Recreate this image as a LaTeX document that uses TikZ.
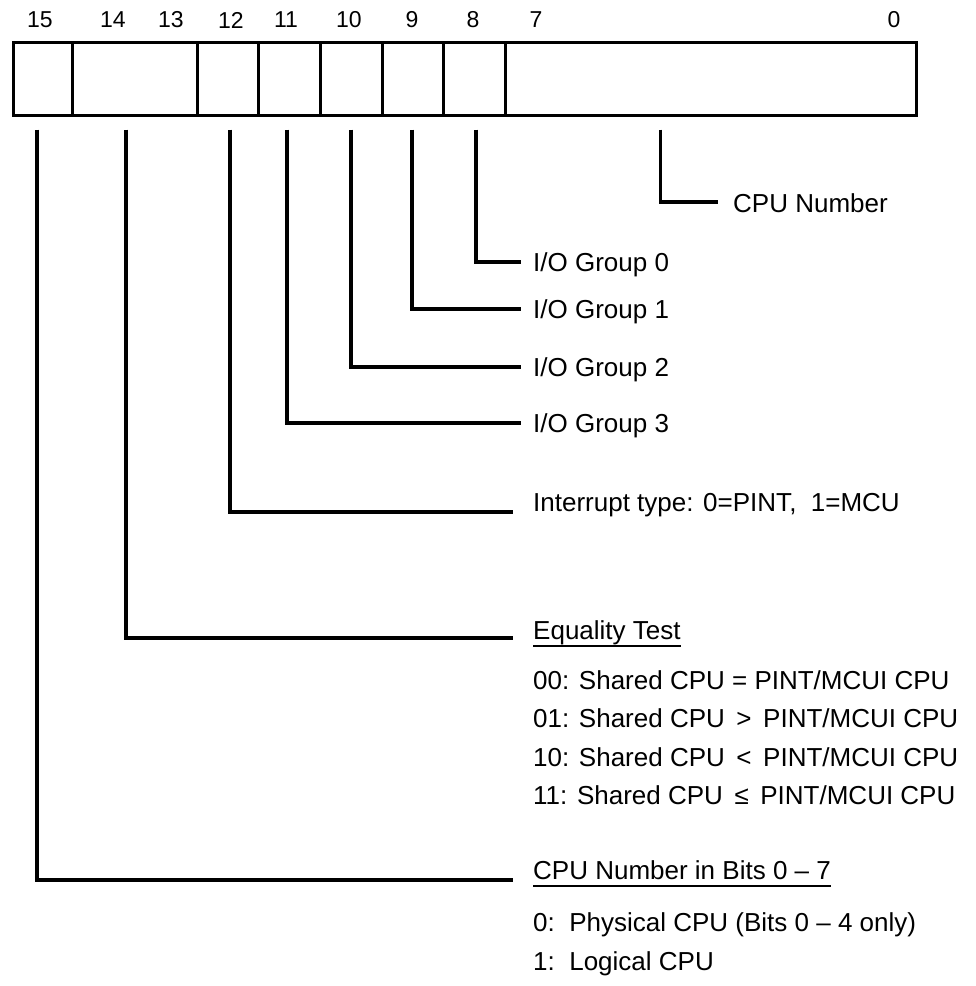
\documentclass[tikz,border=0pt]{standalone}
\usepackage{fontspec}
\setmainfont{Liberation Sans}
\usetikzlibrary{positioning}

\begin{document}
\begin{tikzpicture}[
    x=1pt, y=-1pt,
    every node/.style={font=\fontsize{26}{31}\selectfont},
    cell/.style={rectangle, draw, line width=3pt, minimum height=73pt, inner sep=0pt},
    bitnum/.style={font=\fontsize{23}{27}\selectfont, inner sep=0pt},
    lbl/.style={anchor=base west, inner sep=0pt},
    lead/.style={line width=3.2pt},
    uline/.style={line width=1.8pt}
]
\useasboundingbox (0,0) rectangle (976,986);
% register fields
\foreach \name/\l/\r in {b15/13/72, b14/72/197, b12/197/258, b11/258/320, b10/320/382, b9/382/443, b8/443/505, b7/505/916}
  \node[cell, minimum width={(\r-\l)*1pt}] (\name) at ({(\l+\r)/2},78.5) {};
% bit numbers
\foreach \bit/\x in {15/40, 14/113, 13/171, 12/231, 11/286, 10/349, 9/412, 8/473, 7/536, 0/894}
  \node[bitnum] (n\bit) at (\x,20) {\bit};
% field descriptions
\node[lbl] (cpu) at (733,212) {CPU Number};
\node[lbl] (io0) at (533,271) {I/O Group 0};
\node[lbl] (io1) at (533,318) {I/O Group 1};
\node[lbl] (io2) at (533,376) {I/O Group 2};
\node[lbl] (io3) at (533,432) {I/O Group 3};
\node[lbl] (intr) at (533,511) {Interrupt type: 0=PINT,\ \ 1=MCU};
\node[lbl] (eq) at (533,639) {Equality Test};
\node[lbl] (eq00) at ([yshift=-50pt]eq.base west) {00: Shared CPU = PINT/MCUI CPU};
\node[lbl] (eq01) at ([yshift=-38.5pt]eq00.base west) {01: Shared CPU \,>\, PINT/MCUI CPU};
\node[lbl] (eq10) at ([yshift=-38.5pt]eq01.base west) {10: Shared CPU \,<\, PINT/MCUI CPU};
\node[lbl] (eq11) at ([yshift=-38.5pt]eq10.base west) {11: Shared CPU \,≤\, PINT/MCUI CPU};
\node[lbl] (bits) at (533,879) {CPU Number in Bits 0 – 7};
\node[lbl] (phys) at ([yshift=-52pt]bits.base west) {0:\ \ Physical CPU (Bits 0 – 4 only)};
\node[lbl] (logi) at ([yshift=-39pt]phys.base west) {1:\ \ Logical CPU};
\draw[uline] ([yshift=-7pt]eq.base west) -- ([yshift=-7pt]eq.base east);
\draw[uline] ([yshift=-7pt]bits.base west) -- ([yshift=-7pt]bits.base east);
% leaders
\draw[lead] ([xshift=-50pt,yshift=-13pt]b7.south) |- ([xshift=-15pt,yshift=10pt]cpu.base west);
\draw[lead] ([xshift=2pt,yshift=-13pt]b8.south) |- ([xshift=-12pt,yshift=9pt]io0.base west);
\draw[lead] ([xshift=-0.5pt,yshift=-13pt]b9.south) |- ([xshift=-12pt,yshift=9pt]io1.base west);
\draw[lead] ([yshift=-13pt]b10.south) |- ([xshift=-12pt,yshift=9pt]io2.base west);
\draw[lead] ([xshift=-2pt,yshift=-13pt]b11.south) |- ([xshift=-12pt,yshift=9pt]io3.base west);
\draw[lead] ([xshift=2.5pt,yshift=-13pt]b12.south) |- ([xshift=-20pt,yshift=-1pt]intr.base west);
\draw[lead] ([xshift=-8.5pt,yshift=-13pt]b14.south) |- ([xshift=-20pt,yshift=1pt]eq.base west);
\draw[lead] ([xshift=-5.5pt,yshift=-13pt]b15.south) |- ([xshift=-20pt,yshift=-1pt]bits.base west);
\end{tikzpicture}
\end{document}
